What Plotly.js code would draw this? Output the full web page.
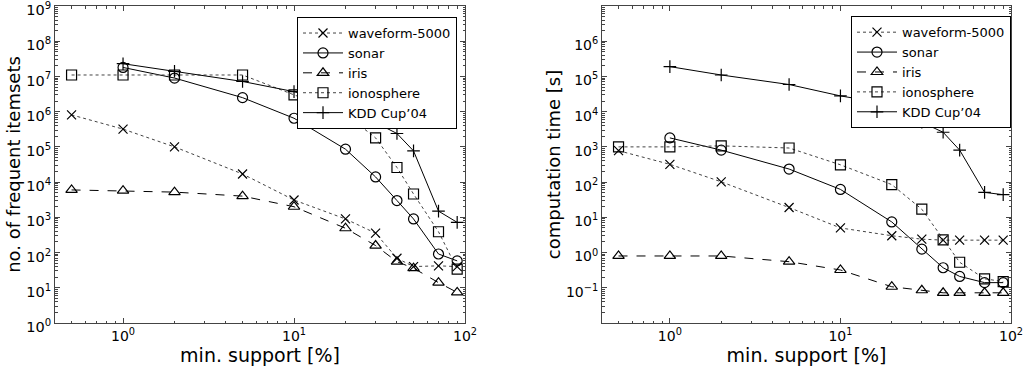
<!DOCTYPE html>
<html>
<head>
<meta charset="utf-8">
<script src="https://cdn.plot.ly/plotly-3.0.1.min.js"></script>
<style>html,body{margin:0;padding:0;background:#fff;}#chart{width:1029px;height:372px;}</style>
</head>
<body>
<div id="chart"></div>
<script>
// ---- data ----
const support = [0.5, 1, 2, 5, 10, 20, 30, 40, 50, 70, 90];
const supportKDD = [1, 2, 5, 10, 20, 30, 40, 50, 70, 90];
const supportSonar = [1, 2, 5, 10, 20, 30, 40, 50, 70, 90];

// left: number of frequent itemsets
const itemsWaveform = [8.1e5, 3.2e5, 1.0e5, 1.7e4, 3.1e3, 900, 355, 69, 40, 42, 40];
const itemsSonar = [1.8e7, 9.0e6, 2.5e6, 6.5e5, 8.6e4, 1.4e4, 3.0e3, 900, 91, 58];
const itemsIris = [6.0e3, 5.7e3, 5.2e3, 4.0e3, 2.0e3, 490, 158, 55, 36, 14, 7.4];
const itemsIono = [1.1e7, 1.1e7, 1.1e7, 1.1e7, 3.0e6, 8.5e5, 1.8e5, 2.6e4, 4.6e3, 390, 34];
const itemsKDD = [2.3e7, 1.4e7, 7.2e6, 3.7e6, 1.45e6, 4.9e5, 2.4e5, 7.7e4, 1.5e3, 720];

// right: computation time [s]
const timeWaveform = [780, 320, 102, 19, 5, 3, 2.4, 2.25, 2.25, 2.25, 2.25];
const timeSonar = [1.8e3, 810, 235, 62, 7.4, 1.25, 0.37, 0.21, 0.14, 0.14];
const timeIris = [0.8, 0.8, 0.8, 0.55, 0.32, 0.107, 0.085, 0.072, 0.072, 0.072, 0.072];
const timeIono = [1.0e3, 1.0e3, 1.07e3, 930, 310, 85, 17, 2.3, 0.53, 0.18, 0.15];
const timeKDD = [1.9e5, 1.1e5, 5.9e4, 2.8e4, 1.6e4, 5.0e3, 2.6e3, 810, 51, 44];

const names = ['waveform-5000', 'sonar', 'iris', 'ionosphere', "KDD Cup’04"];

const xTickVals = [1, 10, 100];
const xTickText = ['10<sup>0</sup>', '10<sup>1</sup>', '10<sup>2</sup>'];
const yLeftTickVals = [1, 10, 100, 1e3, 1e4, 1e5, 1e6, 1e7, 1e8, 1e9];
const yLeftTickText = ['10<sup>0</sup>','10<sup>1</sup>','10<sup>2</sup>','10<sup>3</sup>','10<sup>4</sup>','10<sup>5</sup>','10<sup>6</sup>','10<sup>7</sup>','10<sup>8</sup>','10<sup>9</sup>'];
const yRightTickVals = [0.1, 1, 10, 100, 1e3, 1e4, 1e5, 1e6];
const yRightTickText = ['10<sup>−1</sup>','10<sup>0</sup>','10<sup>1</sup>','10<sup>2</sup>','10<sup>3</sup>','10<sup>4</sup>','10<sup>5</sup>','10<sup>6</sup>'];

// ---- styles ----
const styles = [
  {symbol: 'x-thin-open', size: 9, dash: 'dot', color: '#444'},
  {symbol: 'circle-open', size: 10, dash: 'solid', color: '#000'},
  {symbol: 'triangle-up-open', size: 10, dash: 'dash', color: '#000'},
  {symbol: 'square-open', size: 10, dash: 'dot', color: '#444'},
  {symbol: 'cross-thin-open', size: 9, dash: 'solid', color: '#000'}
];

function tr(x, y, i, xa, ya, leg) {
  const s = styles[i];
  return {
    x: x, y: y, name: names[i], type: 'scatter', mode: 'lines+markers',
    xaxis: xa, yaxis: ya, legend: leg,
    line: {color: s.color, width: 1, dash: s.dash},
    marker: {symbol: s.symbol, size: s.size, color: '#000', line: {color: '#000', width: 1.2}}
  };
}

const data = [
  tr(support, itemsWaveform, 0, 'x', 'y', 'legend'),
  tr(supportSonar, itemsSonar, 1, 'x', 'y', 'legend'),
  tr(support, itemsIris, 2, 'x', 'y', 'legend'),
  tr(support, itemsIono, 3, 'x', 'y', 'legend'),
  tr(supportKDD, itemsKDD, 4, 'x', 'y', 'legend'),
  tr(support, timeWaveform, 0, 'x2', 'y2', 'legend2'),
  tr(supportSonar, timeSonar, 1, 'x2', 'y2', 'legend2'),
  tr(support, timeIris, 2, 'x2', 'y2', 'legend2'),
  tr(support, timeIono, 3, 'x2', 'y2', 'legend2'),
  tr(supportKDD, timeKDD, 4, 'x2', 'y2', 'legend2')
];

const W = 1029, H = 372;
const FF = 'DejaVu Sans, sans-serif';
const axisCommon = {
  type: 'log', showgrid: false, zeroline: false,
  showline: true, linecolor: '#444', linewidth: 1, mirror: 'ticks',
  ticks: 'inside', ticklen: 5, tickcolor: '#444', tickwidth: 1,
  tickmode: 'array', ticklabeloverflow: 'allow',
  minor: {ticks: 'inside', ticklen: 2.5, tickcolor: '#444', dtick: 'D1', showgrid: false}
};

const legendCommon = {
  bgcolor: '#fff', bordercolor: '#000', borderwidth: 1,
  font: {family: FF, size: 13, color: '#000'},
  xanchor: 'right', yanchor: 'top', tracegroupgap: 0, itemwidth: 40
};

const layout = {
  width: W, height: H,
  margin: {l: 0, r: 0, t: 6, b: 49},
  paper_bgcolor: '#fff', plot_bgcolor: '#fff',
  font: {family: FF, size: 14, color: '#000'},
  showlegend: true,
  xaxis: Object.assign({}, axisCommon, {
    domain: [55 / W, 465 / W], range: [Math.log10(0.4), 2],
    tickvals: xTickVals, ticktext: xTickText, anchor: 'y',
    tickfont: {family: FF, size: 14, color: '#000'},
    title: {text: 'min. support [%]', font: {family: FF, size: 19}, standoff: 0}
  }),
  yaxis: Object.assign({}, axisCommon, {
    domain: [0, 1], range: [0, 9], anchor: 'x',
    tickvals: yLeftTickVals, ticktext: yLeftTickText, ticklabelshift: 4,
    tickfont: {family: FF, size: 14.5, color: '#000'},
    title: {text: 'no. of frequent itemsets', font: {family: FF, size: 18}, standoff: 0}
  }),
  xaxis2: Object.assign({}, axisCommon, {
    domain: [602 / W, 1011 / W], range: [Math.log10(0.4), 2],
    tickvals: xTickVals, ticktext: xTickText, anchor: 'y2',
    tickfont: {family: FF, size: 14, color: '#000'},
    title: {text: 'min. support [%]', font: {family: FF, size: 19}, standoff: 0}
  }),
  yaxis2: Object.assign({}, axisCommon, {
    domain: [0, 1], range: [-2, 7], anchor: 'x2',
    tickvals: yRightTickVals, ticktext: yRightTickText, ticklabelshift: 4,
    tickfont: {family: FF, size: 14, color: '#000'},
    title: {text: 'computation time [s]', font: {family: FF, size: 18}, standoff: 0}
  }),
  legend: Object.assign({}, legendCommon, {x: 457 / W, y: (H - 13) / H}),
  legend2: Object.assign({}, legendCommon, {x: 1011 / W, y: (H - 12) / H})
};

Plotly.newPlot('chart', data, layout, {displayModeBar: false, staticPlot: true});
</script>
</body>
</html>
